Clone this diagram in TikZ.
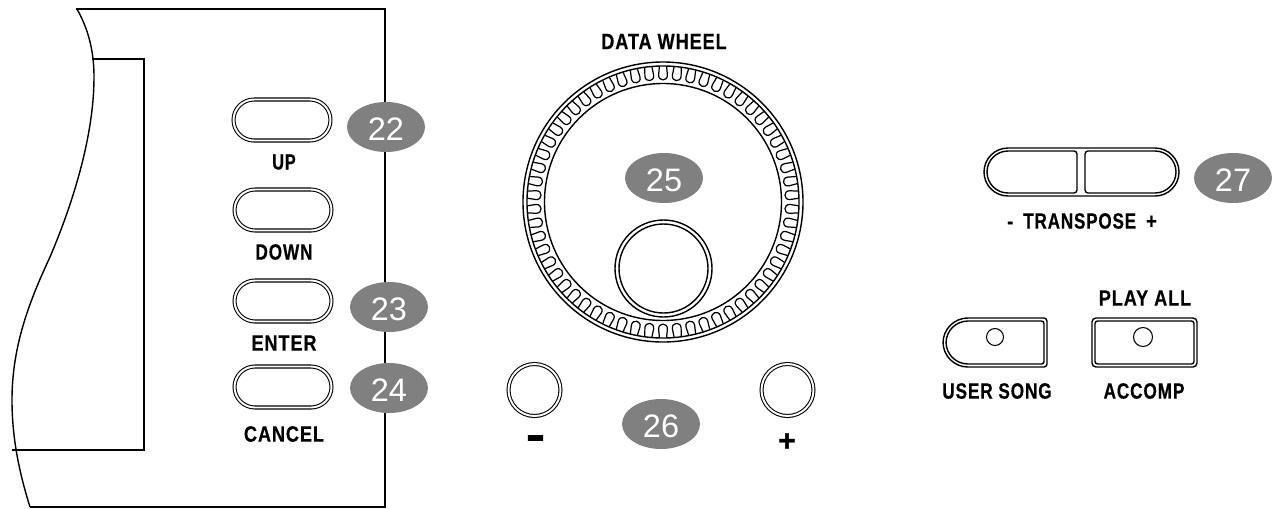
\documentclass[tikz,border=0pt]{standalone}
\usepackage{fontspec}
\usepackage{graphicx}
\setmainfont{Liberation Sans}
\newfontfamily\panelfont[FakeStretch=0.82,LetterSpace=4,FakeBold=0.4]{Liberation Sans Bold}
\newfontfamily\signfont[FakeBold=1.5]{Liberation Sans Bold}
\usetikzlibrary{shapes.geometric,shapes.misc}
\definecolor{calloutgray}{HTML}{808080}
\newcommand{\squeezed}[2]{\scalebox{#1}[1]{#2}}
\tikzset{
	callout/.style={ellipse,fill=calloutgray,text=white,inner sep=0pt,minimum width=1.56cm,minimum height=1.0cm,text height=.52cm,text depth=0pt,font=\fontsize{18.5pt}{20pt}\selectfont},
	panellabel/.style={inner sep=0pt,text=black,font=\panelfont\fontsize{12.6pt}{14pt}\selectfont},
	signlabel/.style={inner sep=0pt,text=black,font=\signfont\fontsize{17pt}{20pt}\selectfont},
	pillbutton/.style={rounded rectangle,draw,line width=.6pt,double,double distance=1.1pt,minimum width=1.94cm,minimum height=.82cm,inner sep=0pt},
	roundbutton/.style={circle,draw,line width=.6pt,double,double distance=1.1pt,minimum size=1.04cm,inner sep=0pt}
}
\begin{document}
\begin{tikzpicture}[x=.02cm,y=-.02cm,line width=.8pt]
	\useasboundingbox (0,0) rectangle (1272,508);
	% panel edge
	\draw (76,9) -- (385,9) -- (385,507) -- (30,507);
	\draw (77,9) .. controls (90,32) and (94,55) .. (94,77) .. controls (94,140) and (70,210) .. (50,257)
		.. controls (30,300) and (12,345) .. (12,400) .. controls (12,440) and (20,475) .. (30,507);
	\draw (92,59) -- (144,59) -- (144,450) -- (12,450);
	% buttons on the left
	\node[pillbutton] (up) at (282,120) {};
	\node[pillbutton] (down) at (283,210) {};
	\node[pillbutton] (enter) at (283,301) {};
	\node[pillbutton] (cancel) at (283,387) {};
	\node[panellabel] (uplabel) at (284,162) {\squeezed{.9}{UP}};
	\node[panellabel] (downlabel) at (284,252) {\squeezed{.95}{DOWN}};
	\node[panellabel] (enterlabel) at (284,343) {ENTER};
	\node[panellabel] (cancellabel) at (284,434) {CANCEL};
	\node[callout] (n22) at (386,127) {22};
	\node[callout] (n23) at (389,307) {23};
	\node[callout] (n24) at (389,388) {24};
	% data wheel
	\coordinate (wheel) at (663,202);
	\coordinate (knob) at (663.5,268.5);
	\node[panellabel] (wheellabel) at (664,41.5) {DATA WHEEL};
	\draw (wheel) circle (140);
	\draw (wheel) circle (136);
	\draw (wheel) circle (118.5);
	\foreach \i in {1,...,58}
		\draw[line width=.7pt,shift={(wheel)},rotate=\i*6.2069] (-3.6,-135.5) -- (-4.4,-127) .. controls (-4.6,-120.5) and (4.6,-120.5) .. (4.4,-127) -- (3.6,-135.5);
	\draw (knob) circle (48.5);
	\draw (knob) circle (44.5);
	\node[callout] (n25) at (664,178) {25};
	\node[roundbutton] (minus) at (534.5,390) {};
	\node[roundbutton] (plus) at (787.5,390) {};
	\node[signlabel] (minuslabel) at (535.5,443.5) {\scalebox{1}[1.7]{–}};
	\node[signlabel] (pluslabel) at (787,442) {+};
	\node[callout] (n26) at (661,424) {26};
	% transpose
	\draw[rounded corners=.48cm] (984,148) rectangle (1179,196);
	\draw (1040,151) [rounded corners=.42cm] -- (987,151) -- (987,193) -- (1040,193) [rounded corners=.06cm] -- (1077,193) -- (1077,151) -- cycle;
	\draw (1130,151) [rounded corners=.42cm] -- (1176,151) -- (1176,193) -- (1130,193) [rounded corners=.06cm] -- (1085,193) -- (1085,151) -- cycle;
	\node[panellabel] (transposelabel) at (1082,221) {-\hspace{.2cm}\squeezed{.94}{TRANSPOSE}\hspace{.2cm}+};
	\node[callout] (n27) at (1233,178) {27};
	% user song and accomp
	\draw (990,318) [rounded corners=.06cm] -- (1047,318) -- (1047,367) -- (990,367) [rounded corners=.5cm] -- (943,367) -- (943,318) -- cycle;
	\draw (990,321) [rounded corners=.05cm] -- (1044,321) -- (1044,364) -- (990,364) [rounded corners=.44cm] -- (946,364) -- (946,321) -- cycle;
	\draw[rounded corners=.08cm] (1092,318) rectangle (1197,367);
	\draw[rounded corners=.05cm] (1095,321) rectangle (1194,364);
	\node[circle,draw,line width=.6pt,minimum size=.34cm,inner sep=0pt] (userled) at (995,337) {};
	\node[circle,draw,line width=.6pt,minimum size=.38cm,inner sep=0pt] (accompled) at (1143,337) {};
	\node[panellabel] (playlabel) at (1145,298) {PLAY ALL};
	\node[panellabel] (userlabel) at (997,391) {\squeezed{.95}{USER SONG}};
	\node[panellabel] (accomplabel) at (1144,391) {\squeezed{.95}{ACCOMP}};
\end{tikzpicture}
\end{document}
